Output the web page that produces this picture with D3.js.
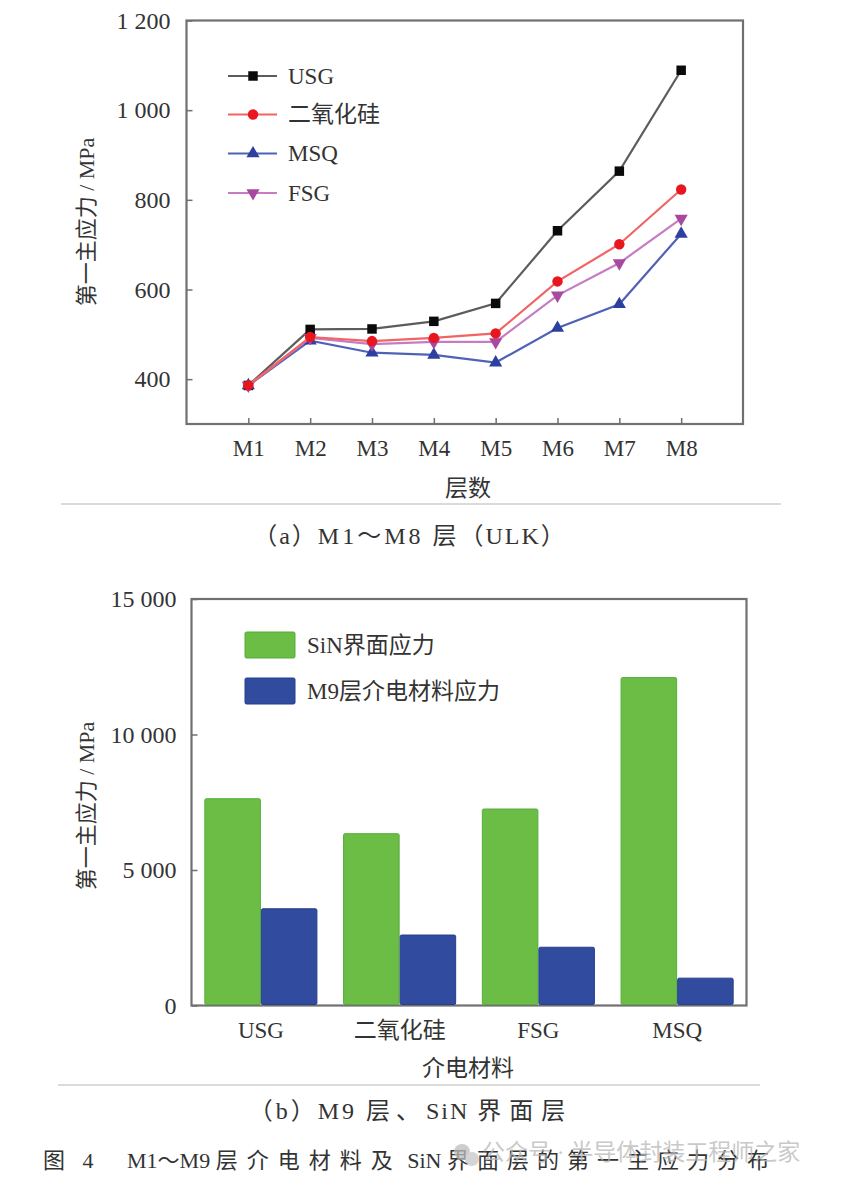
<!DOCTYPE html>
<html><head><meta charset="utf-8">
<script src="https://cdn.jsdelivr.net/npm/d3@7"></script>
<style>
html,body{margin:0;padding:0;background:#fff;}
svg{display:block;}
text{font-family:"Liberation Serif","Noto Sans CJK SC",serif;fill:#333;}
</style></head>
<body>
<svg id="chart" width="844" height="1188"></svg>
<script>
// ---------- Data: chart (a) ----------
const layers = ["M1","M2","M3","M4","M5","M6","M7","M8"];
const seriesNames = ["USG","二氧化硅","MSQ","FSG"];
const usgValues   = [386, 511, 512, 529, 569, 731, 864, 1089];
const sio2Values  = [386, 494, 485, 492, 502, 618, 701, 823];
const msqValues   = [386, 486, 459, 454, 437, 514, 567, 724];
const fsgValues   = [386, 492, 478, 483, 483, 587, 659, 758];
const topTickValues = [400, 600, 800, 1000, 1200];
const topTickLabels = ["400", "600", "800", "1 000", "1 200"];

// ---------- Data: chart (b) ----------
const materials = ["USG","二氧化硅","FSG","MSQ"];
const barSeries = ["SiN界面应力","M9层介电材料应力"];
const sinValues = [7630, 6340, 7250, 12100];
const m9Values  = [3570, 2600, 2150, 1010];
const botTickValues = [0, 5000, 10000, 15000];
const botTickLabels = ["0", "5 000", "10 000", "15 000"];

// ---------- Captions ----------
const captionA = [["（a）",2],["M1～M8\u00a0",3],["层",3],["（ULK）",2]];
const captionB = [["（b）",3],["M9\u00a0",3],["层、",6],["SiN\u00a0",2],["界面层",8]];
const figCaption = [["图\u00a04",6],["\u3000\u00a0",0],["M1～M9\u00a0",0],["层介电材料及",9],["\u00a0SiN\u00a0",0],["界面层的第一主应力分布",8]];

const svg = d3.select("#chart");
const FS = 23;

// ================= Chart (a) =================
const xA = d3.scaleLinear().domain([0, 9]).range([186.5, 743]);
const yA = d3.scaleLinear().domain([300, 1200]).range([424, 20.5]);
const gA = svg.append("g");

gA.append("rect").attr("x", xA(0)).attr("y", yA(1200)).attr("width", xA(9)-xA(0)).attr("height", yA(300)-yA(1200))
  .attr("fill","none").attr("stroke","#707070").attr("stroke-width",2.2);

const yAxisA = d3.axisLeft(yA).tickValues(topTickValues).tickSizeInner(-6).tickSizeOuter(0)
  .tickFormat((d,i)=>topTickLabels[i]).tickPadding(16);
const yAG = gA.append("g").attr("transform",`translate(${xA(0)},0)`).call(yAxisA);
yAG.select(".domain").remove();
yAG.selectAll(".tick line").attr("stroke","#707070").attr("stroke-width",1.5);
yAG.selectAll(".tick text").attr("font-size",FS+1).attr("font-family","Liberation Serif").attr("fill","#333");

const xAxisA = d3.axisBottom(xA).tickValues(d3.range(1,9)).tickSizeInner(-6).tickSizeOuter(0)
  .tickFormat(d=>layers[d-1]).tickPadding(16);
const xAG = gA.append("g").attr("transform",`translate(0,${yA(300)})`).call(xAxisA);
xAG.select(".domain").remove();
xAG.selectAll(".tick line").attr("stroke","#707070").attr("stroke-width",1.5);
xAG.selectAll(".tick text").attr("font-size",FS).attr("font-family","Liberation Serif").attr("fill","#333");

gA.append("text").attr("transform","translate(86,222) rotate(-90)").attr("text-anchor","middle")
  .attr("dominant-baseline","central").attr("font-size",22).text("第一主应力 / MPa");
gA.append("text").attr("x",468).attr("y",488).attr("text-anchor","middle")
  .attr("dominant-baseline","central").attr("font-size",23).attr("font-family","Noto Sans CJK SC").text("层数");

const seriesA = [
  {name: seriesNames[0], values: usgValues,  line:"#5c5c5c", mark:"#0a0a0a", sym:d3.symbolSquare, size:90, rot:0},
  {name: seriesNames[1], values: sio2Values, line:"#f26464", mark:"#e8161e", sym:d3.symbolCircle, size:85, rot:0},
  {name: seriesNames[2], values: msqValues,  line:"#5062b6", mark:"#2c40a0", sym:d3.symbolTriangle, size:75, rot:0},
  {name: seriesNames[3], values: fsgValues,  line:"#c67cc2", mark:"#a8489f", sym:d3.symbolTriangle, size:75, rot:180}
];
const lineGen = d3.line().x((d,i)=>xA(i+1)).y(d=>yA(d));
[0,2,3,1].forEach(k=>{
  const s = seriesA[k];
  gA.append("path").datum(s.values).attr("d",lineGen).attr("fill","none")
    .attr("stroke",s.line).attr("stroke-width",2.2);
  gA.selectAll(null).data(s.values).enter().append("path")
    .attr("d", d3.symbol().type(s.sym).size(s.size))
    .attr("transform",(d,i)=>`translate(${xA(i+1)},${yA(d)}) rotate(${s.rot})`)
    .attr("fill",s.mark);
});

const legA = gA.append("g");
const legRowsY = [76, 114.5, 153.5, 193];
seriesA.forEach((s,i)=>{
  const y = legRowsY[i];
  legA.append("line").attr("x1",228).attr("x2",277).attr("y1",y).attr("y2",y)
    .attr("stroke",s.line).attr("stroke-width",2.2);
  legA.append("path").attr("d", d3.symbol().type(s.sym).size(s.size))
    .attr("transform",`translate(253,${y}) rotate(${s.rot})`).attr("fill",s.mark);
  legA.append("text").attr("x",288).attr("y",y).attr("dominant-baseline","central")
    .attr("font-size",FS).text(s.name);
});

function caption(x, y, segs, fs, anchor, fill){
  const t = svg.append("text").attr("x",x).attr("y",y).attr("dominant-baseline","central")
    .attr("font-size",fs).attr("text-anchor",anchor).attr("fill",fill||"#333");
  segs.forEach(([s,ls])=>{ t.append("tspan").attr("letter-spacing",ls).text(s); });
  return t;
}

svg.append("line").attr("x1",61).attr("x2",781).attr("y1",504).attr("y2",504).attr("stroke","#cfcfcf").attr("stroke-width",1.5);
caption(410, 536, captionA, 24, "middle");

// ================= Chart (b) =================
const xB = d3.scaleBand().domain(materials).range([191.5, 746.5]).paddingInner(0.185).paddingOuter(0.0925);
const xSub = d3.scaleBand().domain(barSeries).range([0, xB.bandwidth()]);
const yB = d3.scaleLinear().domain([0, 15000]).range([1005.5, 599]);
const gB = svg.append("g");
const barColors = ["#6cbd45","#314c9f"];
const barStroke = ["#55ad3a","#263f8c"];

gB.append("rect").attr("x",191.5).attr("y",yB(15000)).attr("width",746.5-191.5).attr("height",yB(0)-yB(15000))
  .attr("fill","none").attr("stroke","#707070").attr("stroke-width",2.2);

const yAxisB = d3.axisLeft(yB).tickValues(botTickValues).tickSizeInner(-6).tickSizeOuter(0)
  .tickFormat((d,i)=>botTickLabels[i]).tickPadding(15);
const yBG = gB.append("g").attr("transform","translate(191.5,0)").call(yAxisB);
yBG.select(".domain").remove();
yBG.selectAll(".tick line").attr("stroke","#707070").attr("stroke-width",1.5);
yBG.selectAll(".tick text").attr("font-size",FS+1).attr("font-family","Liberation Serif").attr("fill","#333");

const barData = [];
materials.forEach((m,i)=>{
  barData.push({m, s:barSeries[0], v:sinValues[i], k:0});
  barData.push({m, s:barSeries[1], v:m9Values[i], k:1});
});
gB.selectAll("rect.bar").data(barData).enter().append("rect").attr("class","bar")
  .attr("x",d=>xB(d.m)+xSub(d.s)+0.5).attr("width",xSub.bandwidth()-1)
  .attr("y",d=>yB(d.v)).attr("height",d=>yB(0)-yB(d.v)-1)
  .attr("rx",1.5)
  .attr("fill",d=>barColors[d.k]).attr("stroke",d=>barStroke[d.k]).attr("stroke-width",1);

const xAxisB = d3.axisBottom(xB).tickSize(0).tickPadding(16);
const xBG = gB.append("g").attr("transform",`translate(0,${yB(0)})`).call(xAxisB);
xBG.select(".domain").remove();
xBG.selectAll(".tick text").attr("font-size",FS).attr("fill","#333")
  .attr("font-family",d=>/^[A-Za-z]+$/.test(d)?"Liberation Serif":"Noto Sans CJK SC");

gB.append("text").attr("transform","translate(86,806) rotate(-90)").attr("text-anchor","middle")
  .attr("dominant-baseline","central").attr("font-size",22).text("第一主应力 / MPa");
gB.append("text").attr("x",468).attr("y",1068).attr("text-anchor","middle")
  .attr("dominant-baseline","central").attr("font-size",23).attr("font-family","Noto Sans CJK SC").text("介电材料");

const legBY = [645, 691];
barSeries.forEach((s,i)=>{
  gB.append("rect").attr("x",245).attr("y",legBY[i]-13).attr("width",50).attr("height",26).attr("rx",1.5)
    .attr("fill",barColors[i]).attr("stroke",barStroke[i]).attr("stroke-width",1);
  gB.append("text").attr("x",307).attr("y",legBY[i]).attr("dominant-baseline","central")
    .attr("font-size",FS).text(s);
});

svg.append("line").attr("x1",58).attr("x2",760).attr("y1",1085).attr("y2",1085).attr("stroke","#cfcfcf").attr("stroke-width",1.5);
caption(411, 1111, captionB, 24, "middle");
caption(43, 1160, figCaption, 22, "start", "#222");

// watermark (present in the reference image)
const wm = svg.append("g").attr("opacity",0.75);
wm.append("circle").attr("cx",462).attr("cy",1152).attr("r",8).attr("fill","#bdbdbd");
wm.append("circle").attr("cx",472).attr("cy",1159).attr("r",7).attr("fill","#c8c8c8");
wm.append("text").attr("x",482).attr("y",1152).attr("dominant-baseline","central").attr("font-size",23)
  .attr("font-family","Noto Sans CJK SC").style("fill","#b8b8b8").text("公众号 · 半导体封装工程师之家");
</script>
</body></html>
